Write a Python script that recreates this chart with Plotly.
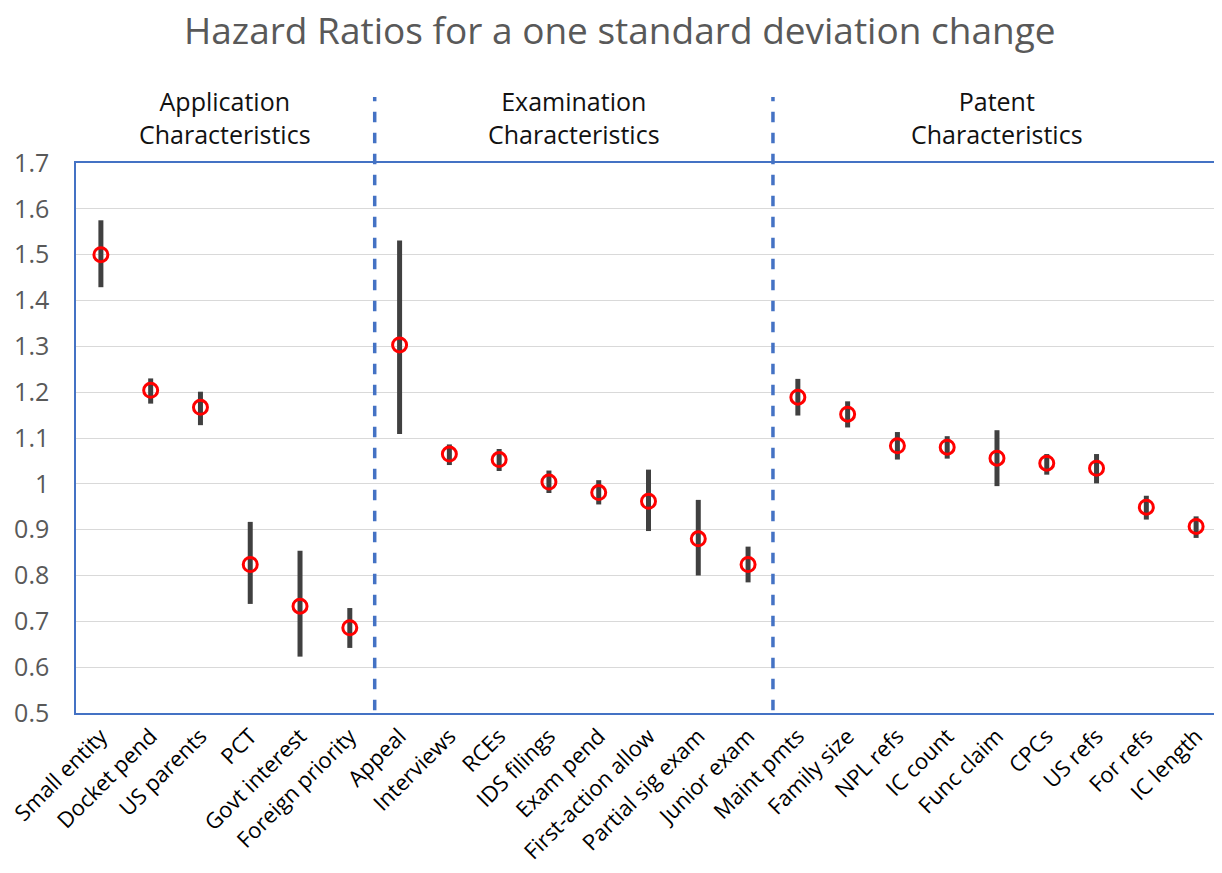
import plotly.graph_objects as go

categories = ["Small entity", "Docket pend", "US parents", "PCT", "Govt interest", "Foreign priority",
              "Appeal", "Interviews", "RCEs", "IDS filings", "Exam pend", "First-action allow",
              "Partial sig exam", "Junior exam",
              "Maint pmts", "Family size", "NPL refs", "IC count", "Func claim", "CPCs",
              "US refs", "For refs", "IC length"]
hazard_ratio = [1.500, 1.204, 1.167, 0.824, 0.733, 0.686,
                1.303, 1.065, 1.053, 1.004, 0.981, 0.962, 0.880, 0.824,
                1.189, 1.152, 1.083, 1.080, 1.056, 1.045, 1.034, 0.949, 0.907]
ci_upper = [1.575, 1.230, 1.201, 0.917, 0.854, 0.729,
            1.531, 1.086, 1.076, 1.029, 1.008, 1.031, 0.965, 0.863,
            1.229, 1.180, 1.113, 1.104, 1.117, 1.065, 1.065, 0.974, 0.929]
ci_lower = [1.429, 1.175, 1.128, 0.738, 0.623, 0.642,
            1.109, 1.041, 1.028, 0.980, 0.955, 0.897, 0.800, 0.785,
            1.149, 1.123, 1.053, 1.055, 0.995, 1.020, 1.001, 0.922, 0.882]
group_labels = ["Application<br>Characteristics", "Examination<br>Characteristics", "Patent<br>Characteristics"]
group_centers = [2.5, 9.5, 18.0]
divider_positions = [5.5, 13.5]
y_ticks = [0.5, 0.6, 0.7, 0.8, 0.9, 1.0, 1.1, 1.2, 1.3, 1.4, 1.5, 1.6, 1.7]
y_tick_text = ["0.5", "0.6", "0.7", "0.8", "0.9", "1", "1.1", "1.2", "1.3", "1.4", "1.5", "1.6", "1.7"]

x_idx = list(range(len(categories)))
err_plus = [u - v for u, v in zip(ci_upper, hazard_ratio)]
err_minus = [v - l for v, l in zip(hazard_ratio, ci_lower)]

FONT = "Open Sans"

fig = go.Figure()
fig.add_trace(go.Scatter(
    x=x_idx, y=hazard_ratio, mode="markers",
    marker=dict(symbol="circle-open", size=14, color="#FF0000", line=dict(width=3, color="#FF0000")),
    error_y=dict(type="data", symmetric=False, array=err_plus, arrayminus=err_minus,
                 thickness=5, width=0, color="#404040"),
    showlegend=False,
))

for xp in divider_positions:
    fig.add_shape(type="line", xref="x", yref="paper", x0=xp, x1=xp, y0=0.005, y1=1.12,
                  line=dict(color="#4472C4", width=3.5, dash="dash"))

for lbl, cx in zip(group_labels, group_centers):
    fig.add_annotation(x=cx, xref="x", y=1.083, yref="paper", text=lbl, showarrow=False,
                       font=dict(family=FONT, size=25, color="#111111"), align="center",
                       yanchor="middle")

fig.add_annotation(text="Hazard Ratios for a one standard deviation change",
                   x=0.475, xref="paper", y=1.243, yref="paper", showarrow=False,
                   xanchor="center", yanchor="middle",
                   font=dict(family=FONT, size=37, color="#595959"))

fig.update_layout(
    width=1214, height=865,
    margin=dict(l=68, r=1, t=155, b=160, autoexpand=False),
    paper_bgcolor="white", plot_bgcolor="white",
    font=dict(family=FONT),
)
fig.update_xaxes(
    range=[-0.5, 22.5], tickmode="array", tickvals=x_idx, ticktext=categories,
    tickangle=-45, tickfont=dict(family=FONT, size=22, color="#000000"),
    showgrid=False, showline=True, linecolor="#4472C4", linewidth=1.5, mirror=True,
    ticks="", zeroline=False, automargin=False, ticklabeloverflow="allow",
)
fig.update_yaxes(
    range=[0.5, 1.7], tickmode="array", tickvals=y_ticks, ticktext=y_tick_text,
    tickfont=dict(family=FONT, size=25, color="#595959"),
    showgrid=True, gridcolor="#D9D9D9", gridwidth=1.2,
    showline=True, linecolor="#4472C4", linewidth=1.5, mirror=True,
    ticks="", zeroline=False, ticklabelstandoff=20, automargin=False,
)

fig.write_html("out.html")
